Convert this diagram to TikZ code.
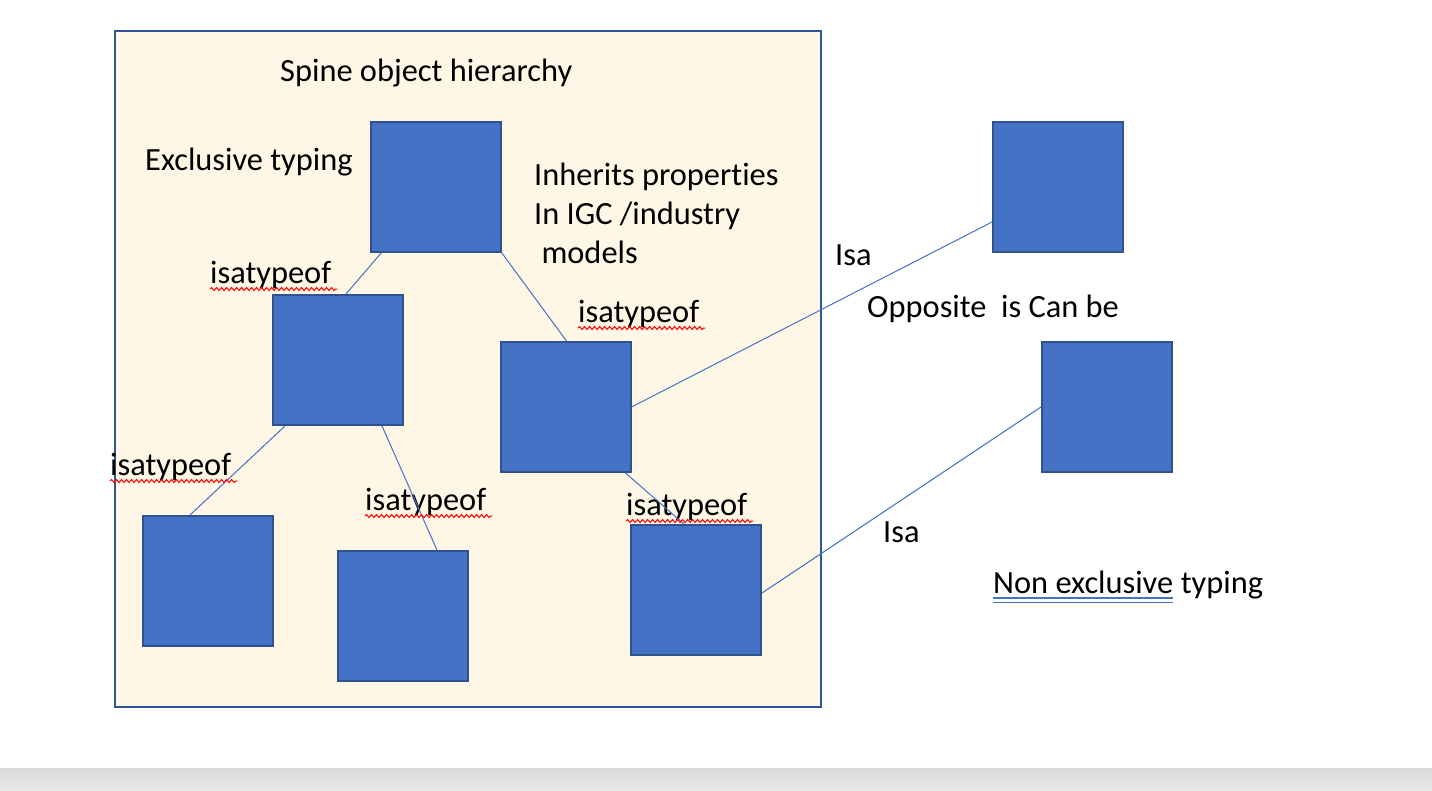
\documentclass[tikz,border=0pt]{standalone}
\usepackage{fontspec}
\setmainfont{Carlito}[Ligatures=NoCommon]
\usetikzlibrary{decorations.pathmorphing}
\definecolor{boxblue}{HTML}{4472C4}
\definecolor{boxedge}{HTML}{2F528F}
\definecolor{frameedge}{HTML}{2F5597}
\definecolor{cream}{HTML}{FFF7E6}
\newcommand\lblfont{\fontsize{32.4}{39}\selectfont}
\begin{document}
\begin{tikzpicture}[
  x=1pt, y=-1pt,
  objbox/.style={draw=boxedge, fill=boxblue, line width=2pt, minimum size=130pt, inner sep=0pt},
  lbl/.style={inner sep=0pt, anchor=base west, font=\lblfont, align=left},
  link/.style={draw=boxblue, line width=1pt},
  squiggle/.style={draw=red, line width=1pt, decorate, decoration={snake, amplitude=1.5pt, segment length=5pt}}
]
\useasboundingbox (0,0) rectangle (1432,790);
\fill[white] (0,0) rectangle (1432,790);
\fill[top color=gray!28, bottom color=gray!18] (0,768) rectangle (1432,790);

% spine frame
\draw[frameedge, fill=cream, line width=2pt] (115,31) rectangle (821,707);

\node[objbox] (top) at (435.5,186.5) {};
\node[objbox] (midleft) at (338,360) {};
\node[objbox] (midright) at (565.5,407) {};
\node[objbox] (lowleft) at (208,581) {};
\node[objbox] (lowmid) at (403,616) {};
\node[objbox] (lowright) at (696,590) {};
\node[objbox] (outertop) at (1058,187) {};
\node[objbox] (outerlow) at (1107,407) {};

\node[lbl] (title) at (280,81) {Spine object hierarchy};
\node[lbl] (exclusive) at (145,170) {Exclusive typing};
\node[lbl, anchor=north west] (inherits) at (534,163) {Inherits properties\\In IGC /industry\\~models};
\node[lbl] (isa1) at (210,283) {isatypeof};
\node[lbl] (isa2) at (578,322) {isatypeof};
\node[lbl] (isa3) at (110,475) {isatypeof};
\node[lbl] (isa4) at (365,510) {isatypeof};
\node[lbl] (isa5) at (626,515) {isatypeof};
\node[lbl] (isaup) at (835,265) {Isa};
\node[lbl] (opposite) at (867,317) {Opposite\ \ is Can be};
\node[lbl] (isalow) at (883,542) {Isa};
\node[lbl] (nonex) at (993,593) {Non exclusive};
\node[lbl] (typing) at ([xshift=7.2pt]nonex.base east) {typing};

\draw[link] ([xshift=12pt]top.south west) -- ([xshift=74pt]midleft.north west);
\draw[link] (top.south east) -- ([xshift=67pt]midright.north west);
\draw[link] ([xshift=13pt]midleft.south west) -- ([xshift=48pt]lowleft.north west);
\draw[link] ([xshift=110pt]midleft.south west) -- ([xshift=100pt]lowmid.north west);
\draw[link] ([xshift=-6pt]midright.south east) -- ([xshift=54pt]lowright.north west);
\draw[link] (midright.east) -- ([yshift=31pt]outertop.south west);
\draw[link] ([yshift=-3pt]lowright.east) -- (outerlow.west);

\foreach \n in {isa1,isa2,isa3,isa4,isa5}
  \draw[squiggle] ([yshift=-6pt]\n.base west) -- ([yshift=-6pt,xshift=6pt]\n.base east);
\draw[boxblue, line width=1.2pt] ([yshift=-5pt]nonex.base west) -- ([yshift=-5pt]nonex.base east);
\draw[boxblue, line width=1.2pt] ([yshift=-9.5pt]nonex.base west) -- ([yshift=-9.5pt]nonex.base east);
\end{tikzpicture}
\end{document}
